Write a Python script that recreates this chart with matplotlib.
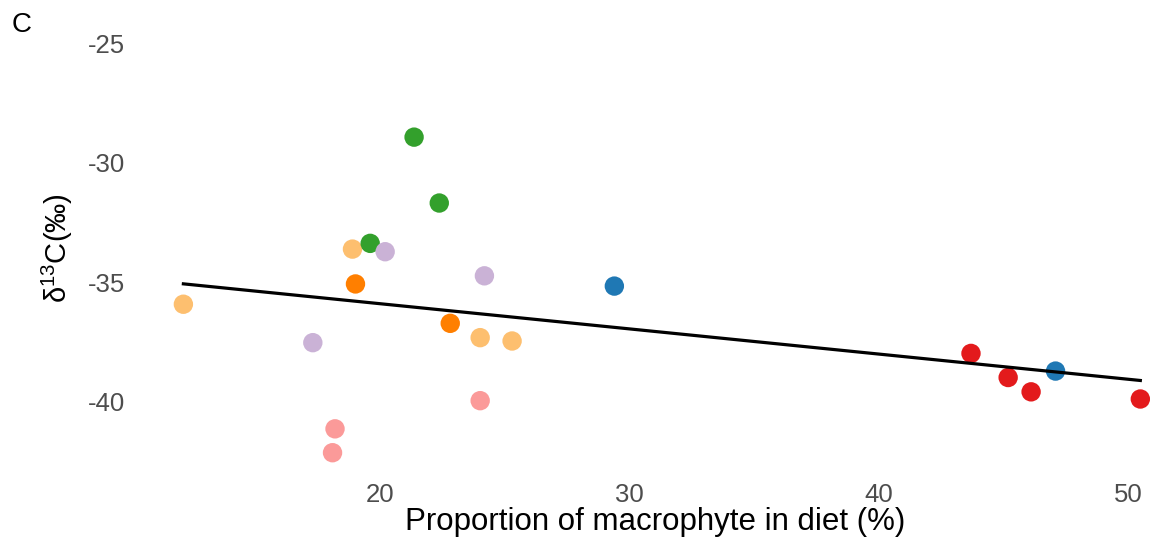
import matplotlib.pyplot as plt
import numpy as np

plt.rcParams['font.family'] = 'Liberation Sans'
plt.rcParams['axes.unicode_minus'] = False

# proportion of macrophyte in diet (%) and d13C (permil), one pair of lists per group
x_light_orange = [12.11, 18.89, 24.01, 25.29]
y_light_orange = [-35.93, -33.62, -37.33, -37.47]
x_orange = [19.01, 22.81]
y_orange = [-35.08, -36.73]
x_green = [21.36, 22.37, 19.60]
y_green = [-28.93, -31.69, -33.38]
x_lavender = [20.20, 24.18, 17.30]
y_lavender = [-33.73, -34.74, -37.54]
x_pink = [24.01, 18.19, 18.09]
y_pink = [-39.97, -41.15, -42.15]
x_blue = [29.39, 47.08]
y_blue = [-35.17, -38.73]
x_red = [43.69, 45.18, 46.10, 50.48]
y_red = [-37.99, -39.00, -39.60, -39.90]

groups = [
    (x_light_orange, y_light_orange, '#FDBF6F'),
    (x_orange, y_orange, '#FF7F00'),
    (x_green, y_green, '#33A02C'),
    (x_lavender, y_lavender, '#CAB2D6'),
    (x_pink, y_pink, '#FB9A99'),
    (x_blue, y_blue, '#1F78B4'),
    (x_red, y_red, '#E31A1C'),
]

fig = plt.figure(figsize=(11.5, 5.49), dpi=100)
ax = fig.add_axes([135.5/1150, 1 - 473/549, (1175 - 135.5)/1150, (473 - 22.8)/549])

for gx, gy, col in groups:
    ax.scatter(gx, gy, s=195, color=col, edgecolors='none', zorder=2, clip_on=False)

# linear fit over all points
all_x = np.concatenate([g[0] for g in groups])
all_y = np.concatenate([g[1] for g in groups])
coef = np.polyfit(all_x, all_y, 1)
xs = np.array([all_x.min(), all_x.max()])
ax.plot(xs, np.polyval(coef, xs), color='black', lw=2.3, zorder=3)

ax.set_xlim(10.19, 51.87)
ax.set_ylim(-43.0, -24.14)
ax.set_xticks([20, 30, 40, 50])
ax.set_yticks([-25, -30, -35, -40])
ax.tick_params(length=0, labelsize=18.5, labelcolor='#4D4D4D')
ax.tick_params(axis='y', pad=7.5)
ax.tick_params(axis='x', pad=7)
for s in ax.spines.values():
    s.set_visible(False)

ax.set_xlabel('Proportion of macrophyte in diet (%)', fontsize=22.5, labelpad=0)
ax.set_ylabel(r'$\mathregular{\delta^{13}}$C(‰)', fontsize=21, labelpad=9)

fig.text(22/1150, 1 - 25/549, 'C', fontsize=20, ha='center', va='center')

fig.savefig('out.png', dpi=100)
